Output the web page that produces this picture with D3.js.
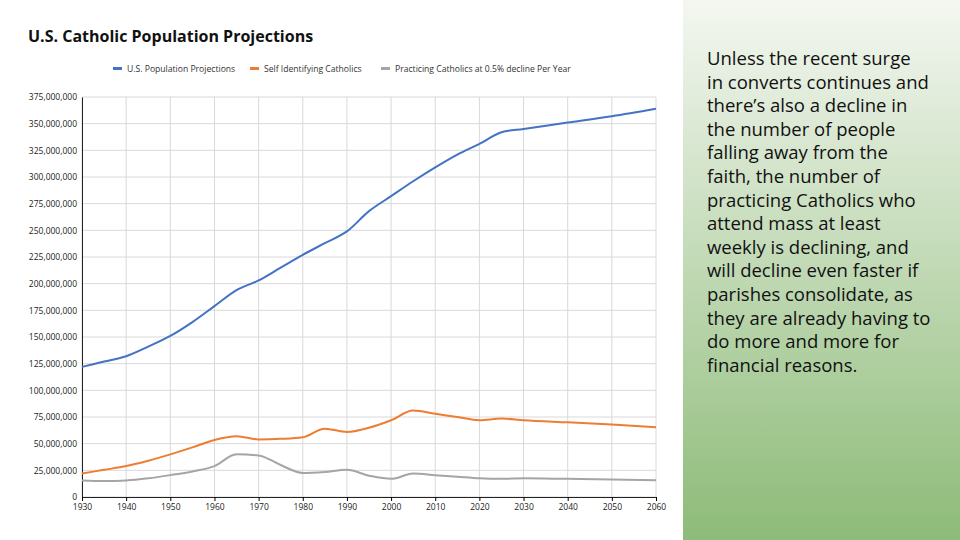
<script src="https://d3js.org/d3.v7.min.js"></script>
<style>
body {margin: 0; background: #fff;}
* {font-family: "Open Sans", sans-serif;}
</style>
<svg id="chart" width="960" height="540"></svg>
<script>
// series values in millions
var years = [1930,1935,1940,1945,1950,1955,1960,1965,1970,1975,1980,1985,1990,1995,2000,2005,2010,2015,2020,2025,2030,2040,2050,2060];
var usPop = [122,127,132,141,151,164,179,194,203,215,227,238,249,268,282,296,309,321,331,342,345,351,357,364];
var selfId = [22,25.5,29,34,40,46.5,53.5,57,54,54.5,56,64,61,65,72,81,78,75,72,73.5,72,70,68,65.5];
var practicing = [15.5,15,15.5,17.5,20.5,24,29,40,39,30,22.5,23.5,25.5,20,17,22,20.5,19,17.5,17,17.5,17,16.5,15.8];
var seriesNames = ["U.S. Population Projections", "Self Identifying Catholics", "Practicing Catholics at 0.5% decline Per Year"];
var colors = ["#4472C4", "#ED7D31", "#A5A5A5"];
var yTicks = d3.range(0, 376, 25);
var xTicks = d3.range(1930, 2061, 10);
var bodyText = ["Unless the recent surge", "in converts continues and", "there\u2019s also a decline in", "the number of people", "falling away from the", "faith, the number of", "practicing Catholics who", "attend mass at least", "weekly is declining, and", "will decline even faster if", "parishes consolidate, as", "they are already having to", "do more and more for", "financial reasons."];

var svg = d3.select("#chart");

// right panel gradient
var grad = svg.append("defs").append("linearGradient").attr("id", "g")
	.attr("x1", 0).attr("y1", 0).attr("x2", 0).attr("y2", 1);
grad.append("stop").attr("offset", "0%").attr("stop-color", "#f4f7f1");
grad.append("stop").attr("offset", "100%").attr("stop-color", "#8dbb78");
svg.append("rect").attr("x", 683).attr("y", 0).attr("width", 277).attr("height", 540).attr("fill", "url(#g)");

svg.append("text").attr("x", 707).attr("y", 0)
	.attr("font-family", "Open Sans").attr("font-size", 18.5).attr("fill", "#111")
	.selectAll("tspan").data(bodyText).enter().append("tspan")
	.attr("x", 707).attr("y", function(d, i){ return 65 + i * 23.6; })
	.text(function(d){ return d; });

svg.append("text").attr("x", 28).attr("y", 42).attr("font-size", 16).attr("font-weight", "bold")
	.attr("fill", "#111").text("U.S. Catholic Population Projections");

var x = d3.scaleLinear().domain([1930, 2060]).range([82, 656]);
var y = d3.scaleLinear().domain([0, 375]).range([497, 97]);

// grid
svg.append("g").selectAll("line").data(yTicks).enter().append("line")
	.attr("x1", 82).attr("x2", 656).attr("y1", y).attr("y2", y)
	.attr("stroke", "#d9d9d9");
svg.append("g").selectAll("line").data(xTicks).enter().append("line")
	.attr("x1", x).attr("x2", x).attr("y1", 97).attr("y2", 497)
	.attr("stroke", "#d9d9d9");

var yAxis = svg.append("g").attr("transform", "translate(82,0)")
	.call(d3.axisLeft(y).tickValues(yTicks).tickSize(0).tickPadding(5)
		.tickFormat(function(d){ return d3.format(",")(d * 1e6); }));
yAxis.select(".domain").attr("stroke", "#222");
yAxis.selectAll("text").attr("font-size", 8.5).attr("fill", "#222");

var xAxis = svg.append("g").attr("transform", "translate(0,497)")
	.call(d3.axisBottom(x).tickValues(xTicks).tickSize(4).tickFormat(d3.format("d")));
xAxis.select(".domain").attr("stroke", "#222");
xAxis.selectAll("text").attr("font-size", 8.5).attr("fill", "#222");

var line = d3.line().curve(d3.curveMonotoneX)
	.x(function(d, i){ return x(years[i]); }).y(function(d){ return y(d); });
[usPop, selfId, practicing].forEach(function(s, i){
	svg.append("path").attr("d", line(s)).attr("fill", "none")
		.attr("stroke", colors[i]).attr("stroke-width", 2);
});

// legend
var legX = [113, 250, 381];
seriesNames.forEach(function(n, i){
	svg.append("rect").attr("x", legX[i]).attr("y", 67).attr("width", 9).attr("height", 3).attr("fill", colors[i]);
	svg.append("text").attr("x", legX[i] + 14).attr("y", 72).attr("font-size", 8.6).attr("fill", "#333").text(n);
});
</script>
